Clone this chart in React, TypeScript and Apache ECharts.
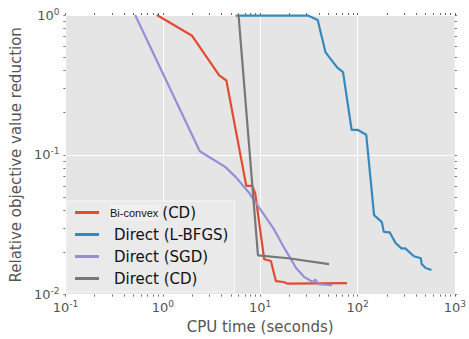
import React, { useEffect, useRef } from "react";
import * as echarts from "echarts";

// Bi-convex (CD)
const biconvexX = [0.87, 2.0, 3.8, 4.5, 7.2, 8.3, 8.9, 11.0, 12.9, 14.5, 17.4, 19.0, 78];
const biconvexY = [1.0, 0.71, 0.37, 0.34, 0.06, 0.06, 0.053, 0.0179, 0.0174, 0.0125, 0.0123, 0.012, 0.0121];

// Direct (L-BFGS)
const lbfgsX = [5.6, 31, 39, 47, 62, 71, 87, 100, 123, 148, 178, 186, 214, 245, 282, 309, 380, 447, 457, 501, 575];
const lbfgsY = [0.99, 0.99, 0.92, 0.54, 0.42, 0.39, 0.151, 0.151, 0.139, 0.037, 0.033, 0.0281, 0.0279, 0.0235, 0.0214, 0.0214, 0.0188, 0.0182, 0.0165, 0.0155, 0.015];

// Direct (SGD)
const sgdX = [0.52, 2.4, 4.37, 5.6, 7.8, 10, 13.8, 17.8, 23.4, 28.2, 34.7, 37, 39.8, 55];
const sgdY = [1.0, 0.106, 0.082, 0.0695, 0.0528, 0.0408, 0.0295, 0.0214, 0.0155, 0.0134, 0.0123, 0.0128, 0.0119, 0.0117];

// Direct (CD)
const cdX = [6.0, 9.5, 19.5, 51];
const cdY = [1.0, 0.0191, 0.0182, 0.0165];

const seriesNames = ["Bi-convex (CD)", "Direct (L-BFGS)", "Direct (SGD)", "Direct (CD)"];
const seriesColors = ["#E24A33", "#348ABD", "#988ED5", "#777777"];

const xMin = 0.1;
const xMax = 1000;
const yMin = 0.01;
const yMax = 1;

const xTitle = "CPU time (seconds)";
const yTitle = "Relative objective value reduction";

function logTicks(lo: number, hi: number): number[] {
  const out: number[] = [];
  for (let d = lo; d < hi * 0.999; d *= 10) {
    for (let k = 1; k < 10; k++) out.push(+(d * k).toPrecision(3));
  }
  out.push(hi);
  return out;
}

const FONT = "DejaVu Sans";

const labelRich = {
  b: { fontFamily: FONT, fontSize: 13, color: "#555555", lineHeight: 16 },
  s: { fontFamily: FONT, fontSize: 9, color: "#555555", lineHeight: 9, verticalAlign: "top" as const },
};

const powFormatter = (v: number) => {
  const e = Math.round(Math.log10(v));
  return `{b|10}{s|${e}}`;
};

export default function App() {
  const ref = useRef<HTMLDivElement>(null);
  useEffect(() => {
    if (!ref.current) return;
    const chart = echarts.init(ref.current, undefined, { renderer: "svg" });
    const xs = [biconvexX, lbfgsX, sgdX, cdX];
    const ys = [biconvexY, lbfgsY, sgdY, cdY];
    const xTicks = logTicks(xMin, xMax);
    const yTicks = logTicks(yMin, yMax);
    const tickAxisBase = {
      type: "log" as const,
      logBase: 10,
      axisLine: { show: false },
      axisLabel: { show: false },
      splitLine: { show: false },
    };
    chart.setOption({
      animation: false,
      grid: {
        left: 58,
        right: 11,
        top: 15,
        bottom: 39,
        show: true,
        backgroundColor: "#E5E5E5",
        borderWidth: 0,
      },
      legend: {
        left: 66,
        top: 201,
        orient: "vertical",
        icon: "rect",
        itemWidth: 24,
        itemHeight: 3,
        itemGap: 5,
        padding: [3, 6, 5, 9],
        backgroundColor: "#EAEAEA",
        borderColor: "#F8F8F8",
        borderWidth: 1,
        data: seriesNames,
        formatter: (name: string) =>
          name.startsWith("Bi-convex") ? "{g| }{s|Bi-convex}{m|(CD)}" : `{d|${name}}`,
        textStyle: {
          fontFamily: FONT,
          fontSize: 15,
          color: "#111111",
          lineHeight: 17,
          rich: {
            g: { width: 5, fontSize: 15, lineHeight: 17 },
            s: {
              fontFamily: "Liberation Sans",
              fontSize: 11,
              color: "#111111",
              backgroundColor: "#F0F0F0",
              padding: [3, 1, 2, 1],
            },
            m: { fontFamily: FONT, fontSize: 15, color: "#111111", lineHeight: 17, padding: [0, 0, 0, 3] },
            d: { fontFamily: FONT, fontSize: 15, color: "#111111", lineHeight: 17, padding: [0, 0, 0, 10] },
          },
        },
      },
      xAxis: [
        {
          type: "log",
          logBase: 10,
          min: xMin,
          max: xMax,
          position: "bottom",
          axisLine: { show: false },
          axisTick: { show: false },
          splitLine: { show: true, lineStyle: { color: "#FFFFFF", width: 1 } },
          axisLabel: { formatter: powFormatter, margin: 5, rich: labelRich },
          name: xTitle,
          nameLocation: "middle",
          nameGap: 24,
          nameTextStyle: { fontFamily: FONT, fontSize: 15, color: "#555555" },
        },
        {
          ...tickAxisBase,
          min: xMin,
          max: xMax,
          position: "bottom",
          axisTick: { show: true, length: 2, lineStyle: { color: "#666666" }, customValues: xTicks },
        },
        {
          ...tickAxisBase,
          min: xMin,
          max: xMax,
          position: "top",
          axisTick: { show: true, length: 2, lineStyle: { color: "#666666" }, customValues: xTicks },
        },
      ],
      yAxis: [
        {
          type: "log",
          logBase: 10,
          min: yMin,
          max: yMax,
          position: "left",
          axisLine: { show: false },
          axisTick: { show: false },
          splitLine: { show: true, lineStyle: { color: "#FFFFFF", width: 1 } },
          axisLabel: { formatter: powFormatter, margin: 6, rich: labelRich },
          name: yTitle,
          nameLocation: "middle",
          nameGap: 39,
          nameRotate: 90,
          nameTextStyle: { fontFamily: FONT, fontSize: 15, color: "#555555" },
        },
        {
          ...tickAxisBase,
          min: yMin,
          max: yMax,
          position: "left",
          axisTick: { show: true, length: 2, lineStyle: { color: "#666666" }, customValues: yTicks },
        },
        {
          ...tickAxisBase,
          min: yMin,
          max: yMax,
          position: "right",
          axisTick: { show: true, length: 2, lineStyle: { color: "#666666" }, customValues: yTicks },
        },
      ],
      series: seriesNames.map((name, i) => ({
        name,
        type: "line",
        xAxisIndex: 0,
        yAxisIndex: 0,
        symbol: "none",
        showSymbol: false,
        color: seriesColors[i],
        lineStyle: { color: seriesColors[i], width: 2.2 },
        data: xs[i].map((x, j) => [x, ys[i][j]]),
      })),
    });
    return () => chart.dispose();
  }, []);
  return <div ref={ref} style={{ width: 469, height: 339, position: "absolute", left: 0, top: 0 }} />;
}
